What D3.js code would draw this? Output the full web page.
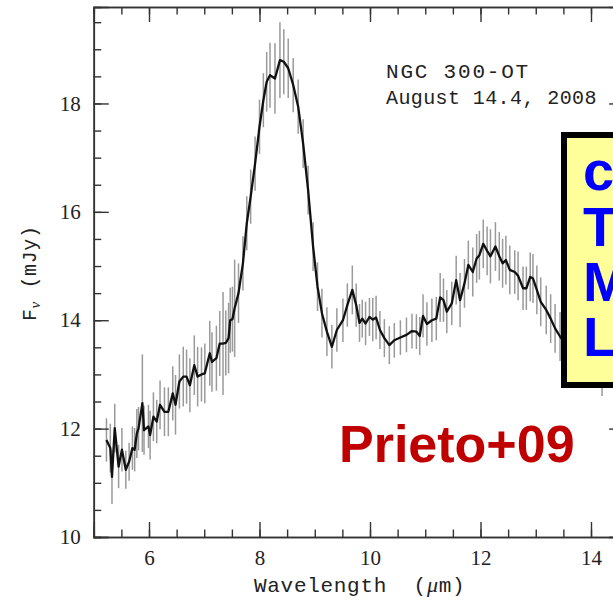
<!DOCTYPE html>
<html>
<head>
<meta charset="utf-8">
<script src="https://cdn.jsdelivr.net/npm/d3@7"></script>
<style>
  body { margin: 0; background: #fff; }
  svg { display: block; }
</style>
</head>
<body>
<div id="chart"></div>
<script>
// spectrum: wavelength (um), flux (mJy), 1-sigma error
const wavelength = [5.23, 5.30, 5.33, 5.38, 5.45, 5.51, 5.58, 5.64, 5.70, 5.74, 5.78, 5.81, 5.88, 5.91, 5.99,
  6.02, 6.08, 6.14, 6.20, 6.28, 6.35, 6.43, 6.48, 6.55, 6.62, 6.68, 6.74, 6.82, 6.88, 6.95,
  7.01, 7.10, 7.14, 7.22, 7.28, 7.34, 7.39, 7.44, 7.47, 7.51, 7.55, 7.62, 7.70, 7.77, 7.84, 7.92,
  8.00, 8.07, 8.13, 8.19, 8.28, 8.37, 8.44, 8.52, 8.61, 8.70, 8.79, 8.88, 8.97,
  9.05, 9.13, 9.22, 9.31, 9.40, 9.51, 9.59, 9.68, 9.75, 9.81, 9.86, 9.92, 9.99,
  10.05, 10.11, 10.18, 10.26, 10.35, 10.44, 10.55, 10.66, 10.76, 10.84, 10.90, 10.96,
  11.03, 11.12, 11.20, 11.27, 11.33, 11.39, 11.48, 11.56, 11.63, 11.71, 11.78, 11.86, 11.93, 11.98,
  12.05, 12.12, 12.18, 12.27, 12.34, 12.40, 12.46, 12.53, 12.62, 12.68, 12.77, 12.83, 12.90, 12.95,
  13.02, 13.09, 13.19, 13.27, 13.35, 13.44, 13.55, 13.70, 13.85, 14.00, 14.20];
const flux = [11.79, 11.64, 11.11, 12.01, 11.30, 11.61, 11.24, 11.39, 11.64, 11.61, 11.91, 12.00, 12.47, 11.97, 12.04,
  11.88, 12.22, 12.13, 12.44, 12.31, 12.31, 12.65, 12.44, 12.87, 12.96, 12.96, 12.80, 13.17, 12.96, 13.00,
  13.02, 13.39, 13.23, 13.30, 13.57, 13.57, 13.58, 13.67, 14.00, 14.02, 14.22, 14.50, 15.05, 15.79, 16.28, 16.89,
  17.57, 18.06, 18.40, 18.52, 18.46, 18.80, 18.77, 18.65, 18.34, 17.94, 17.26, 16.40, 15.36,
  14.62, 14.13, 13.79, 13.51, 13.82, 14.00, 14.28, 14.56, 14.28, 13.95, 14.03, 13.94, 14.06,
  14.01, 14.05, 13.82, 13.67, 13.54, 13.63, 13.68, 13.73, 13.80, 13.79, 13.71, 14.08,
  13.93, 14.00, 14.03, 14.42, 14.37, 14.16, 14.31, 14.74, 14.37, 14.68, 15.02, 14.89, 15.14, 15.20,
  15.41, 15.28, 15.18, 15.36, 15.18, 15.05, 15.11, 14.93, 14.89, 14.82, 14.59, 14.59, 14.80, 14.77,
  14.56, 14.34, 14.19, 14.03, 13.85, 13.70, 13.55, 13.40, 13.30, 13.20, 13.05];
const fluxErr = [0.40, 0.45, 0.50, 0.45, 0.40, 0.40, 0.35, 0.35, 0.40, 0.40, 0.45, 0.40, 0.90, 0.45, 0.40,
  0.45, 0.45, 0.40, 0.45, 0.45, 0.45, 0.50, 0.55, 0.50, 0.55, 0.50, 0.50, 0.55, 0.55, 0.50,
  0.55, 0.60, 0.55, 0.60, 0.60, 0.95, 0.60, 0.65, 0.60, 0.60, 0.90, 0.55, 0.50, 0.50, 0.50, 0.50,
  0.50, 0.50, 0.55, 0.60, 0.65, 0.70, 0.60, 0.55, 0.50, 0.50, 0.45, 0.45, 0.45,
  0.45, 0.45, 0.45, 0.40, 0.40, 0.40, 0.40, 0.45, 0.40, 0.35, 0.35, 0.40, 0.35,
  0.40, 0.40, 0.35, 0.35, 0.35, 0.32, 0.32, 0.32, 0.32, 0.32, 0.35, 0.40,
  0.40, 0.40, 0.40, 0.45, 0.40, 0.40, 0.40, 0.45, 0.50, 0.45, 0.45, 0.45, 0.45, 0.45,
  0.45, 0.45, 0.50, 0.45, 0.45, 0.45, 0.45, 0.45, 0.40, 0.45, 0.40, 0.40, 0.45, 0.45,
  0.45, 0.45, 0.45, 0.45, 0.45, 0.45, 0.45, 0.45, 0.45, 0.45, 0.45];

const xMajor = [6, 8, 10, 12, 14];
const yMajor = [10, 12, 14, 16, 18];
const xMinor = d3.range(5.5, 14.6, 0.5);
const yMinor = d3.range(10, 19.8, 0.5);
const boxLines = ["c", "T", "M", "L"];

const W = 613, H = 600;
const svg = d3.select("#chart").append("svg").attr("width", W).attr("height", H);

const x = d3.scaleLinear().domain([5, 14.6]).range([93.75, 624.15]);
const y = d3.scaleLinear().domain([10, 19.78]).range([537, 7]);

const data = wavelength.map((w, i) => ({ w: w, f: flux[i], e: fluxErr[i] }));

// error bars
svg.append("g").selectAll("line").data(data).enter().append("line")
  .attr("x1", d => x(d.w)).attr("x2", d => x(d.w))
  .attr("y1", d => y(d.f - d.e)).attr("y2", d => y(d.f + d.e))
  .attr("stroke", "#9a9a9a").attr("stroke-width", 1.5);

// spectrum
svg.append("path").datum(data)
  .attr("fill", "none").attr("stroke", "#111").attr("stroke-width", 2.3)
  .attr("stroke-linejoin", "round")
  .attr("d", d3.line().x(d => x(d.w)).y(d => y(d.f)));

// axes, ticks pointing inwards
function styleAxis(g) {
  g.selectAll("path").attr("stroke", "#333").attr("stroke-width", 1.6);
  g.selectAll("line").attr("stroke", "#333").attr("stroke-width", 1.4);
  g.selectAll("text").attr("fill", "#222").style("font-family", "'Liberation Serif', serif").style("font-size", "21px");
}
const axBottom = svg.append("g").attr("transform", "translate(0,537)");
axBottom.append("g").call(d3.axisBottom(x).tickValues(xMinor).tickSize(-7.5).tickFormat("")).call(styleAxis);
axBottom.append("g").call(d3.axisBottom(x).tickValues(xMajor).tickSize(-15).tickPadding(13).tickFormat(d3.format("d"))).call(styleAxis);

const axTop = svg.append("g").attr("transform", "translate(0,7)");
axTop.append("g").call(d3.axisTop(x).tickValues(xMinor).tickSize(-7.5).tickFormat("")).call(styleAxis);
axTop.append("g").call(d3.axisTop(x).tickValues(xMajor).tickSize(-15).tickFormat("")).call(styleAxis);

const axLeft = svg.append("g").attr("transform", "translate(93.75,0)");
axLeft.append("g").call(d3.axisLeft(y).tickValues(yMinor).tickSize(-7.5).tickFormat("")).call(styleAxis);
axLeft.append("g").call(d3.axisLeft(y).tickValues(yMajor).tickSize(-15).tickPadding(13).tickFormat(d3.format("d"))).call(styleAxis);

const axRight = svg.append("g").attr("transform", "translate(624.15,0)");
axRight.append("g").call(d3.axisRight(y).tickValues(yMinor).tickSize(-7.5).tickFormat("")).call(styleAxis);
axRight.append("g").call(d3.axisRight(y).tickValues(yMajor).tickSize(-15).tickFormat("")).call(styleAxis);

// axis titles
const mono = "'Liberation Mono', 'DejaVu Sans Mono', monospace";
const xt = svg.append("text").attr("x", 254).attr("y", 592)
  .style("font-family", mono).style("font-size", "21px").attr("fill", "#222")
  .style("letter-spacing", "0.7px").style("white-space", "pre");
xt.append("tspan").text("Wavelength  (");
xt.append("tspan").style("font-family", "'Liberation Serif', serif").style("font-style", "italic").style("font-size", "22px").text("μ");
xt.append("tspan").text("m)");

const yt = svg.append("text").attr("transform", "translate(36,321) rotate(-90)")
  .style("font-family", mono).style("font-size", "20px").attr("fill", "#222")
  .style("letter-spacing", "0.6px").style("white-space", "pre");
yt.append("tspan").text("F");
yt.append("tspan").attr("dy", 4).style("font-family", "'Liberation Serif', serif").style("font-style", "italic").style("font-size", "15px").text("ν");
yt.append("tspan").attr("dy", -4).text(" (mJy)");

// annotation
svg.append("text").attr("x", 386).attr("y", 78)
  .style("font-family", mono).style("font-size", "21px").attr("fill", "#222")
  .style("letter-spacing", "1.8px")
  .text("NGC 300-OT");
svg.append("text").attr("x", 386).attr("y", 104)
  .style("font-family", mono).style("font-size", "20px").attr("fill", "#222")
  .style("letter-spacing", "0.4px")
  .text("August 14.4, 2008");

// yellow box
svg.append("rect").attr("x", 564).attr("y", 135).attr("width", 120).attr("height", 250)
  .attr("fill", "#ffff99").attr("stroke", "#000").attr("stroke-width", 6);
const boxBase = [190, 246, 301, 356];
svg.append("g").selectAll("text").data(boxLines).enter().append("text")
  .attr("x", 583).attr("y", (d, i) => boxBase[i])
  .style("font-family", "'Liberation Sans', Arial, sans-serif").style("font-weight", "bold")
  .style("font-size", "56px").attr("fill", "#0000ff")
  .text(d => d);

svg.append("text").attr("x", 339).attr("y", 462)
  .style("font-family", "'Liberation Sans', Arial, sans-serif").style("font-weight", "bold")
  .style("font-size", "52px").attr("fill", "#c00000")
  .text("Prieto+09");
</script>
</body>
</html>
